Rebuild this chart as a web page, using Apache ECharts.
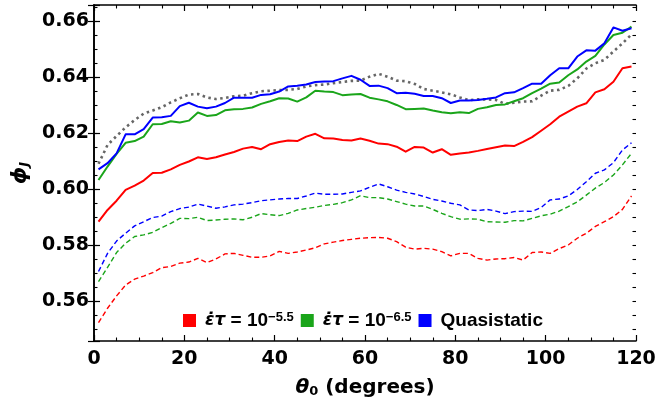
<!DOCTYPE html>
<html>
<head>
<meta charset="utf-8">
<script src="https://cdn.jsdelivr.net/npm/echarts@6/dist/echarts.min.js"></script>
<style>
  html, body { margin: 0; padding: 0; background: #fff; }
  #chart { width: 672px; height: 412px; }
</style>
</head>
<body>
<div id="chart"></div>
<script>
// Initial angle theta_0 (degrees)
const theta = [1, 3, 5, 7, 9, 11, 13, 15, 17, 19, 21, 23, 25, 27, 29, 31, 33, 35, 37, 39,
  41, 43, 45, 47, 49, 51, 53, 55, 57, 59, 61, 63, 65, 67, 69, 71, 73, 75, 77, 79,
  81, 83, 85, 87, 89, 91, 93, 95, 97, 99, 101, 103, 105, 107, 109, 111, 113, 115, 117, 119];

// Jamming fraction phi_J, solid curves
const redSolid = [0.5883, 0.5925, 0.5958, 0.5997, 0.6012, 0.6030, 0.6057, 0.6058, 0.6070, 0.6086, 0.6098, 0.6113, 0.6107, 0.6113, 0.6123, 0.6132, 0.6144, 0.6150, 0.6142, 0.6160,
  0.6168, 0.6173, 0.6171, 0.6187, 0.6197, 0.6181, 0.6180, 0.6175, 0.6173, 0.6180, 0.6172, 0.6162, 0.6160, 0.6151, 0.6133, 0.6150, 0.6148, 0.6130, 0.6142, 0.6122,
  0.6127, 0.6130, 0.6136, 0.6143, 0.6149, 0.6155, 0.6153, 0.6168, 0.6185, 0.6208, 0.6231, 0.6258, 0.6276, 0.6294, 0.6306, 0.6345, 0.6356, 0.6383, 0.6431, 0.6437];
const greenSolid = [0.6032, 0.6080, 0.6125, 0.6165, 0.6171, 0.6187, 0.6231, 0.6232, 0.6242, 0.6237, 0.6244, 0.6273, 0.6261, 0.6264, 0.6281, 0.6285, 0.6286, 0.6291, 0.6304, 0.6313,
  0.6324, 0.6323, 0.6312, 0.6327, 0.6351, 0.6348, 0.6346, 0.6335, 0.6337, 0.6339, 0.6326, 0.6320, 0.6313, 0.6300, 0.6285, 0.6286, 0.6287, 0.6280, 0.6274, 0.6270,
  0.6274, 0.6271, 0.6286, 0.6292, 0.6300, 0.6302, 0.6313, 0.6324, 0.6342, 0.6358, 0.6376, 0.6380, 0.6406, 0.6427, 0.6455, 0.6475, 0.6516, 0.6550, 0.6558, 0.6580];
const blueSolid = [0.6070, 0.6092, 0.6127, 0.6195, 0.6195, 0.6214, 0.6255, 0.6256, 0.6261, 0.6296, 0.6308, 0.6294, 0.6288, 0.6294, 0.6307, 0.6326, 0.6326, 0.6326, 0.6336, 0.6338,
  0.6348, 0.6366, 0.6369, 0.6373, 0.6382, 0.6384, 0.6385, 0.6395, 0.6404, 0.6390, 0.6368, 0.6369, 0.6360, 0.6342, 0.6344, 0.6340, 0.6332, 0.6332, 0.6324, 0.6307,
  0.6316, 0.6316, 0.6318, 0.6322, 0.6327, 0.6342, 0.6345, 0.6360, 0.6376, 0.6376, 0.6406, 0.6431, 0.6431, 0.6473, 0.6495, 0.6494, 0.6520, 0.6577, 0.6565, 0.6574];

// Dashed curves
const redDashed = [0.5523, 0.5574, 0.5618, 0.5657, 0.5678, 0.5689, 0.5701, 0.5719, 0.5723, 0.5735, 0.5739, 0.5752, 0.5737, 0.5750, 0.5768, 0.5770, 0.5763, 0.5756, 0.5756, 0.5761,
  0.5777, 0.5770, 0.5775, 0.5782, 0.5790, 0.5804, 0.5810, 0.5816, 0.5820, 0.5824, 0.5826, 0.5827, 0.5824, 0.5812, 0.5792, 0.5785, 0.5788, 0.5785, 0.5776, 0.5761,
  0.5770, 0.5770, 0.5752, 0.5746, 0.5750, 0.5751, 0.5755, 0.5746, 0.5773, 0.5775, 0.5770, 0.5787, 0.5800, 0.5824, 0.5842, 0.5866, 0.5883, 0.5901, 0.5927, 0.5975];
const greenDashed = [0.5669, 0.5720, 0.5773, 0.5806, 0.5830, 0.5836, 0.5845, 0.5862, 0.5877, 0.5895, 0.5894, 0.5899, 0.5887, 0.5889, 0.5892, 0.5893, 0.5890, 0.5899, 0.5912, 0.5908,
  0.5905, 0.5913, 0.5925, 0.5930, 0.5935, 0.5941, 0.5945, 0.5951, 0.5961, 0.5976, 0.5969, 0.5969, 0.5964, 0.5955, 0.5946, 0.5939, 0.5939, 0.5927, 0.5913, 0.5901,
  0.5892, 0.5893, 0.5892, 0.5883, 0.5882, 0.5881, 0.5887, 0.5886, 0.5895, 0.5904, 0.5910, 0.5921, 0.5937, 0.5954, 0.5978, 0.6003, 0.6023, 0.6050, 0.6086, 0.6127];
const blueDashed = [0.5705, 0.5770, 0.5814, 0.5842, 0.5868, 0.5883, 0.5898, 0.5903, 0.5919, 0.5930, 0.5935, 0.5946, 0.5939, 0.5931, 0.5936, 0.5943, 0.5946, 0.5951, 0.5958, 0.5961,
  0.5964, 0.5966, 0.5966, 0.5975, 0.5985, 0.5981, 0.5981, 0.5982, 0.5988, 0.5993, 0.6006, 0.6018, 0.6008, 0.5996, 0.5988, 0.5982, 0.5973, 0.5963, 0.5957, 0.5949,
  0.5943, 0.5925, 0.5923, 0.5927, 0.5921, 0.5912, 0.5919, 0.5921, 0.5920, 0.5934, 0.5961, 0.5964, 0.5975, 0.5998, 0.6026, 0.6056, 0.6068, 0.6094, 0.6139, 0.6165];

// Dotted reference curve
const grayDotted = [0.6090, 0.6157, 0.6189, 0.6220, 0.6246, 0.6269, 0.6280, 0.6292, 0.6309, 0.6324, 0.6337, 0.6339, 0.6327, 0.6321, 0.6325, 0.6331, 0.6333, 0.6342, 0.6349, 0.6351,
  0.6353, 0.6354, 0.6357, 0.6366, 0.6371, 0.6373, 0.6378, 0.6382, 0.6386, 0.6387, 0.6401, 0.6411, 0.6401, 0.6387, 0.6385, 0.6375, 0.6357, 0.6351, 0.6345, 0.6338,
  0.6327, 0.6317, 0.6320, 0.6320, 0.6318, 0.6304, 0.6308, 0.6312, 0.6313, 0.6333, 0.6351, 0.6354, 0.6368, 0.6395, 0.6430, 0.6449, 0.6461, 0.6491, 0.6520, 0.6552];

const legendNames = ['r55', 'r65', 'qs'];
const legendText = {
  r55: '{it|ε̇τ}{n| = 10}{sup|−5.5}',
  r65: '{it|ε̇τ}{n| = 10}{sup|−6.5}',
  qs: '{q|Quasistatic}'
};

const RED = '#ff0000', GREEN = '#1aa51a', BLUE = '#0000ff', GRAY = '#666666';
const TICK_FONT = 'DejaVu Sans';
const LEG_FONT = 'Liberation Sans';

const pairs = arr => theta.map((t, i) => [t, arr[i]]);

function lineSeries(name, arr, color, width, type) {
  return {
    name: name,
    type: 'line',
    xAxisIndex: 0,
    yAxisIndex: 0,
    data: pairs(arr),
    symbol: 'none',
    smooth: false,
    lineStyle: { color: color, width: width, type: type, cap: 'butt', join: 'round' },
    itemStyle: { color: color },
    emphasis: { disabled: true }
  };
}

const frameLine = { show: true, lineStyle: { color: '#000', width: 1.6 } };
const majorTick = { show: true, inside: true, length: 6, lineStyle: { color: '#000', width: 1.2 } };
const minorTickX = { show: true, splitNumber: 4, length: 3.5, lineStyle: { color: '#000', width: 1.1 } };
const tickLabel = { fontFamily: TICK_FONT, fontWeight: 'bold', fontSize: 19, color: '#000' };

const chart = echarts.init(document.getElementById('chart'), null, { renderer: 'canvas', width: 672, height: 412 });

chart.setOption({
  animation: false,
  backgroundColor: '#fff',
  grid: [
    { left: 94, right: 36, top: 5, bottom: 71, containLabel: false },
    // second grid carries the 0.005 minor ticks of the phi axis
    { left: 94, right: 36, top: 6.96, bottom: 83.04, containLabel: false }
  ],
  xAxis: [
    {
      type: 'value', gridIndex: 0, position: 'bottom', min: 0, max: 120, interval: 20,
      axisLine: frameLine, axisTick: majorTick, minorTick: minorTickX,
      splitLine: { show: false }, minorSplitLine: { show: false },
      axisLabel: Object.assign({ margin: 9 }, tickLabel),
      name: '{i|θ}{s|0}{n| (degrees)}', nameLocation: 'middle', nameGap: 36,
      nameTextStyle: {
        rich: {
          i: { fontFamily: TICK_FONT, fontWeight: 'bold', fontStyle: 'italic', fontSize: 20, color: '#000' },
          s: { fontFamily: TICK_FONT, fontWeight: 'bold', fontSize: 13, color: '#000', verticalAlign: 'bottom', padding: [8, 0, 0, 0] },
          n: { fontFamily: TICK_FONT, fontWeight: 'bold', fontSize: 20, color: '#000' }
        }
      }
    },
    {
      type: 'value', gridIndex: 0, position: 'top', min: 0, max: 120, interval: 20,
      axisLine: frameLine, axisTick: majorTick, minorTick: minorTickX,
      splitLine: { show: false }, axisLabel: { show: false }
    },
    { type: 'value', gridIndex: 1, min: 0, max: 120, show: false }
  ],
  yAxis: [
    {
      type: 'value', gridIndex: 0, position: 'left', min: 0.5457, max: 0.6657, splitNumber: 6,
      axisLine: frameLine, axisTick: majorTick, splitLine: { show: false },
      axisLabel: Object.assign({
        margin: 5,
        formatter: v => (Math.abs(v * 50 - Math.round(v * 50)) < 1e-6 ? v.toFixed(2) : '')
      }, tickLabel),
      name: '{i|ϕ}{s|J}', nameLocation: 'middle', nameGap: 46, nameRotate: 90,
      nameTextStyle: {
        rich: {
          i: { fontFamily: TICK_FONT, fontWeight: 'bold', fontStyle: 'italic', fontSize: 22, color: '#000' },
          s: { fontFamily: TICK_FONT, fontWeight: 'bold', fontStyle: 'italic', fontSize: 13, color: '#000', verticalAlign: 'bottom', padding: [9, 0, 0, 0] }
        }
      }
    },
    {
      type: 'value', gridIndex: 0, position: 'right', min: 0.5457, max: 0.6657, splitNumber: 6,
      axisLine: frameLine, axisTick: majorTick, splitLine: { show: false }, axisLabel: { show: false }
    },
    {
      type: 'value', gridIndex: 1, position: 'left', min: 0.55, max: 0.665, interval: 0.005,
      axisLine: { show: false }, splitLine: { show: false }, axisLabel: { show: false },
      axisTick: { show: true, inside: true, length: 3.5, lineStyle: { color: '#000', width: 1.1 } }
    },
    {
      type: 'value', gridIndex: 1, position: 'right', min: 0.55, max: 0.665, interval: 0.005,
      axisLine: { show: false }, splitLine: { show: false }, axisLabel: { show: false },
      axisTick: { show: true, inside: true, length: 3.5, lineStyle: { color: '#000', width: 1.1 } }
    }
  ],
  legend: {
    data: legendNames,
    left: 183, top: 311, padding: 0,
    icon: 'rect', itemWidth: 13, itemHeight: 13, itemGap: 7,
    selectedMode: false,
    itemStyle: { borderWidth: 0 },
    formatter: name => legendText[name],
    textStyle: {
      color: '#000',
      rich: {
        it: { fontFamily: 'DejaVu Sans', fontWeight: 'bold', fontStyle: 'italic', fontSize: 17, color: '#000', padding: [0, 0, 0, 4] },
        n: { fontFamily: LEG_FONT, fontWeight: 'bold', fontSize: 19, color: '#000' },
        sup: { fontFamily: LEG_FONT, fontWeight: 'bold', fontSize: 13, color: '#000', verticalAlign: 'top', padding: [0, 0, 6, 0] },
        q: { fontFamily: LEG_FONT, fontWeight: 'bold', fontSize: 19, color: '#000', padding: [0, 0, 0, 4] }
      }
    }
  },
  series: [
    lineSeries('redDashed', redDashed, RED, 1.4, [5, 3]),
    lineSeries('greenDashed', greenDashed, GREEN, 1.4, [5, 3]),
    lineSeries('blueDashed', blueDashed, BLUE, 1.4, [5, 3]),
    lineSeries('quasistaticRef', grayDotted, GRAY, 2.6, [2.5, 3.5]),
    lineSeries('r55', redSolid, RED, 2, 'solid'),
    lineSeries('r65', greenSolid, GREEN, 2, 'solid'),
    lineSeries('qs', blueSolid, BLUE, 2, 'solid')
  ]
});
</script>
</body>
</html>
